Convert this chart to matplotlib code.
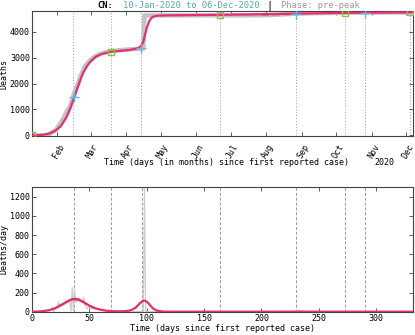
import matplotlib
matplotlib.use('Agg')
import matplotlib.pyplot as plt
import numpy as np
import datetime as dt

plt.rcParams['font.family'] = ['DejaVu Sans Mono']
plt.rcParams['font.size'] = 6

# ---------------- data ----------------
start_date = dt.date(2020, 1, 10)
month_labels = ['Feb', 'Mar', 'Apr', 'May', 'Jun', 'Jul', 'Aug', 'Sep', 'Oct', 'Nov', 'Dec']
month_numbers = [2, 3, 4, 5, 6, 7, 8, 9, 10, 11, 12]

# cumulative deaths (reported data)
cum_data_days = [0, 11, 12, 15, 18, 21, 24, 27, 30, 33, 35, 37, 40, 42, 44, 46, 48, 50, 53, 56,
                 59, 62, 65, 68, 72, 80, 90, 97, 98, 150, 200, 215, 230, 250, 273, 300, 331]
cum_data_vals = [0, 1, 17, 42, 131, 213, 425, 632, 904, 1113, 1380, 1665, 2007, 2247, 2458, 2663,
                 2770, 2872, 2983, 3072, 3139, 3180, 3217, 3249, 3270, 3305, 3335, 3342, 4632,
                 4634, 4636, 4660, 4700, 4720, 4735, 4740, 4742]

# cumulative fitted curve
cum_fit_days = [0, 5, 10, 15, 20, 25, 30, 33, 35, 37, 40, 43, 45, 48, 50, 55, 60, 65, 69, 75, 80,
                85, 90, 93, 95, 97, 98, 100, 102, 104, 106, 110, 120, 140, 164, 190, 210, 230,
                250, 273, 290, 310, 331]
cum_fit_vals = [0, 5, 25, 70, 170, 350, 700, 1000, 1250, 1500, 1880, 2250, 2450, 2680, 2800,
                3020, 3130, 3190, 3230, 3255, 3275, 3300, 3340, 3380, 3450, 3620, 3800, 4150,
                4400, 4530, 4590, 4625, 4635, 4645, 4655, 4670, 4685, 4700, 4715, 4730, 4738,
                4743, 4746]

# olive model segment
olive_days = [200, 210, 220, 228]
olive_vals = [4665, 4672, 4680, 4688]

# markers
square_days = [0, 69, 164, 273, 329]
square_vals = [0, 3230, 4655, 4730, 4745]
plus_days = [37, 95, 230, 290]
plus_vals = [1500, 3360, 4700, 4738]

# daily deaths (reported data), days 0..110
daily_vals = [0, 1, 0, 0, 0, 0, 0, 1, 0, 0, 0, 1, 15, 1, 8, 16, 14, 26, 49, 2,
              38, 42, 46, 102, 64, 65, 72, 70, 85, 87, 100, 107, 100, 100, 5, 254, 13, 240, 104, 98,
              139, 115, 118, 109, 97, 150, 71, 52, 29, 44, 47, 35, 42, 31, 38, 31, 30, 28, 27, 22,
              17, 22, 11, 7, 13, 10, 14, 13, 11, 8, 3, 7, 6, 9, 7, 4, 6, 5, 3, 5,
              4, 1, 6, 2, 2, 4, 3, 2, 3, 1, 2, 1, 1, 1, 0, 1, 0, 1, 1290, 0,
              0, 0, 0, 0, 0, 0, 0, 0, 0, 0, 0]
daily_tail_days = [150, 200, 225, 232, 240, 260, 331]
daily_tail_vals = [0, 1, 3, 5, 3, 1, 0]

# daily fitted curve
daily_fit_days = [0, 5, 10, 15, 20, 25, 30, 33, 35, 37, 39, 41, 45, 50, 55, 60, 65, 70, 75, 80,
                  85, 88, 91, 94, 96, 97, 98, 100, 102, 104, 106, 110, 115, 120, 331]
daily_fit_vals = [0, 2, 6, 16, 35, 65, 100, 120, 128, 131, 128, 122, 98, 62, 36, 20, 10, 5, 3, 4,
                  12, 25, 50, 88, 108, 115, 116, 105, 80, 52, 28, 7, 1, 0, 0]

olive_daily_days = [20, 30, 35, 38, 41, 45, 50, 55, 225, 233, 241]
olive_daily_vals = [36, 104, 133, 138, 130, 102, 64, 37, 0, 6, 0]

vline_days = [37, 69, 96, 164, 230, 273, 290]
vline_days_top = [36, 69, 95, 164, 230, 273, 290, 329]

# ---------------- figure ----------------
fig = plt.figure(figsize=(4.15, 3.35), dpi=100)
ax1 = fig.add_axes([0.0771, 0.594, 0.918, 0.373])
ax2 = fig.add_axes([0.0771, 0.0696, 0.918, 0.3714])

pink = '#e62e72'
gray = '#c4c4c4'
green = '#8cbf4a'
blue = '#66b2e6'
olive = '#8a7a1a'
frame = '#444444'

# ---- top ----
for d in vline_days_top:
    ax1.axvline(d, color='#999999', lw=0.7, ls=(0, (1, 2)), zorder=1)
ax1.plot(cum_data_days, cum_data_vals, color=gray, lw=3.2, zorder=2, solid_capstyle='butt')
ax1.plot(olive_days, olive_vals, color=olive, lw=1.5, ls='--', zorder=3)
ax1.plot(cum_fit_days, cum_fit_vals, color=pink, lw=1.6, zorder=4)
ax1.plot(square_days, square_vals, ls='none', marker='s', ms=5, mfc='none', mec=green, mew=1.0, zorder=5)
ax1.plot(plus_days, plus_vals, ls='none', marker='+', ms=7, mec=blue, mew=1.0, zorder=5)

month_ticks = [(dt.date(2020, m, 1) - start_date).days for m in month_numbers]
ax1.set_xlim(0, 332)
ax1.set_ylim(-25, 4800)
ax1.set_xticks(month_ticks)
ax1.set_xticklabels([])
xtrans = ax1.get_xaxis_transform()
for t, lab in zip(month_ticks, month_labels):
    ax1.annotate(lab, xy=(t, 0), xycoords=xtrans, xytext=(4, -6), textcoords='offset points',
                 rotation=60, ha='right', va='center', rotation_mode='anchor', fontsize=6,
                 annotation_clip=False)
ax1.set_yticks([0, 1000, 2000, 3000, 4000])
ax1.set_ylabel('Deaths', labelpad=1)
ax1.text(0.51, -0.215, 'Time (days (in months) since first reported case)', transform=ax1.transAxes,
         ha='center', va='center', fontsize=6)
ax1.text(0.925, -0.215, '2020', transform=ax1.transAxes, ha='center', va='center', fontsize=6)

# title pieces
ty = 1 - 5.5 / 335
fig.text(0.234, ty, 'CN:', ha='left', va='center', fontsize=6.3, fontweight='bold', color='black')
fig.text(0.296, ty, '10-Jan-2020 to 06-Dec-2020', ha='left', va='center', fontsize=6.3, color='#5aa8a8')
fig.text(0.641, ty, '|', ha='left', va='center', fontsize=7.5, color='black')
fig.text(0.677, ty, 'Phase: pre-peak', ha='left', va='center', fontsize=6.3, color='#999999')

# ---- bottom ----
for d in vline_days:
    ax2.axvline(d, color='#999999', lw=0.7, ls=(0, (3, 2)), zorder=1)
daily_days = list(np.arange(len(daily_vals))) + daily_tail_days
daily_all = daily_vals + daily_tail_vals
ax2.plot(daily_days, daily_all, color='#cccccc', lw=0.9, zorder=2)
ax2.plot(olive_daily_days[:8], olive_daily_vals[:8], color=olive, lw=1.2, zorder=3)
ax2.plot(olive_daily_days[8:], olive_daily_vals[8:], color='#c8b080', lw=1.0, zorder=3)
ax2.plot(daily_fit_days, daily_fit_vals, color=pink, lw=1.6, zorder=4)
ax2.set_xlim(0, 332)
ax2.set_ylim(0, 1300)
ax2.set_xticks([0, 50, 100, 150, 200, 250, 300])
ax2.set_yticks([0, 200, 400, 600, 800, 1000, 1200])
ax2.set_ylabel('Deaths/day', labelpad=1)
ax2.set_xlabel('Time (days since first reported case)', labelpad=1)

for ax in (ax1, ax2):
    ax.tick_params(direction='in', top=True, right=True, length=3, width=0.6,
                   color=frame, labelsize=6, pad=1.5)
    for s in ax.spines.values():
        s.set_color(frame)
        s.set_linewidth(0.8)

fig.savefig('out.png', dpi=100)
